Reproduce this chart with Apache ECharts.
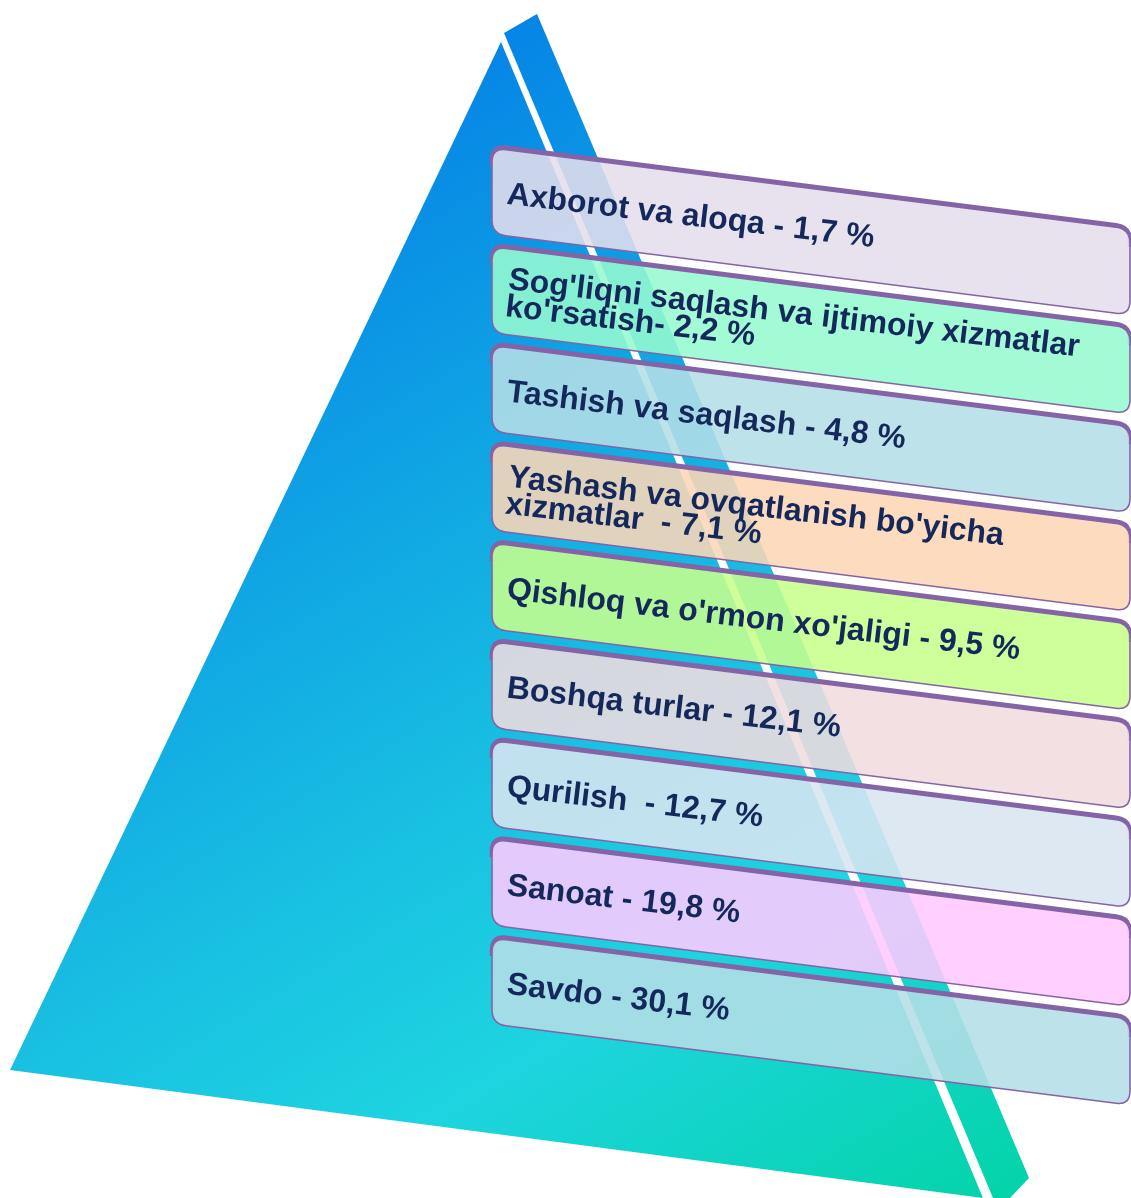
<!DOCTYPE html>
<html>
<head>
<meta charset="utf-8">
<script src="https://cdn.jsdelivr.net/npm/echarts@6/dist/echarts.min.js"></script>
<style>html,body{margin:0;padding:0;background:#fff;}#chart{width:1131px;height:1198px;}</style>
</head>
<body>
<div id="chart"></div>
<script>
// ---- data ----
const categories = [
  "Axborot va aloqa",
  "Sog'liqni saqlash va ijtimoiy xizmatlar\nko'rsatish",
  "Tashish va saqlash",
  "Yashash va ovqatlanish bo'yicha\nxizmatlar ",
  "Qishloq va o'rmon xo'jaligi",
  "Boshqa turlar",
  "Qurilish ",
  "Sanoat",
  "Savdo"
];
const values = [1.7, 2.2, 4.8, 7.1, 9.5, 12.1, 12.7, 19.8, 30.1];
const separators = [" - ", "- ", " - ", " - ", " - ", " - ", " - ", " - ", " - "];

// ---- styles ----
const boxColors = [
  'rgba(229,222,236,0.88)',
  'rgba(150,250,208,0.88)',
  'rgba(181,222,231,0.88)',
  'rgba(253,214,182,0.88)',
  'rgba(199,255,140,0.88)',
  'rgba(240,220,222,0.88)',
  'rgba(217,229,240,0.88)',
  'rgba(255,202,255,0.88)',
  'rgba(181,222,231,0.88)'
];
const purple = '#8464A6';
const textColor = '#15285B';

function fmt(v) { return v.toFixed(1).replace('.', ',') + ' %'; }

function unitTo(p, q, r) {
  const l = Math.hypot(q[0] - p[0], q[1] - p[1]);
  return [p[0] + (q[0] - p[0]) / l * r, p[1] + (q[1] - p[1]) / l * r];
}
function f(p) { return p[0].toFixed(2) + ' ' + p[1].toFixed(2); }

function roundedPath(pts, r) {
  const n = pts.length;
  let d = '';
  for (let i = 0; i < n; i++) {
    const p = pts[i], a = pts[(i - 1 + n) % n], b = pts[(i + 1) % n];
    const s = unitTo(p, a, r), e = unitTo(p, b, r);
    d += (i === 0 ? 'M' : 'L') + f(s) + ' Q' + f(p) + ' ' + f(e) + ' ';
  }
  return d + 'Z';
}
// open path along the top edge, including the two rounded top corners
function topEdgePath(pts, r) {
  const tl = pts[0], tr = pts[1], br = pts[2], bl = pts[3];
  const a = unitTo(tl, bl, r + 6), s1 = unitTo(tl, bl, r), e1 = unitTo(tl, tr, r);
  const s2 = unitTo(tr, tl, r), e2 = unitTo(tr, br, r), b2 = unitTo(tr, br, r + 6);
  return 'M' + f(a) + ' L' + f(s1) + ' Q' + f(tl) + ' ' + f(e1) + ' L' + f(s2) +
         ' Q' + f(tr) + ' ' + f(e2) + ' L' + f(b2);
}

const chart = echarts.init(document.getElementById('chart'), null, {renderer: 'canvas'});

const grad = new echarts.graphic.LinearGradient(350, 100, 1000, 1190, [
  {offset: 0, color: '#0583E6'},
  {offset: 0.5, color: '#18BEE2'},
  {offset: 0.72, color: '#1ED4E0'},
  {offset: 1, color: '#04D4AA'}
], true);

const slope = 0.127;
const boxH = 86;

chart.setOption({
  animation: false,
  backgroundColor: '#ffffff',
  grid: {left: 492, top: 148, width: 638, height: 888.75},
  xAxis: {type: 'value', min: 0, max: 1, show: false},
  yAxis: {type: 'category', data: categories, inverse: true, show: false},
  graphic: [
    {type: 'polygon', z: -10, silent: true,
     shape: {points: [[501, 42], [10, 1070], [983, 1198]]},
     style: {fill: grad}},
    {type: 'polygon', z: -10, silent: true,
     shape: {points: [[504, 33], [537, 14], [1029, 1178], [1010, 1198], [993, 1198]]},
     style: {fill: grad}}
  ],
  series: [{
    type: 'custom',
    silent: true,
    clip: false,
    z: 5,
    encode: {x: 0, y: 1},
    data: values.map((v, i) => [0, i, v]),
    renderItem: function (params, api) {
      const idx = api.value(1);
      const c = api.coord([0, idx]);
      const band = api.size([0, 1])[1];
      const x0 = c[0];
      const x1 = api.coord([1, idx])[0];
      const y0 = c[1] - band / 2;
      const w = x1 - x0;
      const pts = [[x0, y0], [x1, y0 + slope * w], [x1, y0 + slope * w + boxH], [x0, y0 + boxH]];
      const ptsUp = pts.map(p => [p[0], p[1] - 2]);
      const label = categories[idx] + separators[idx] + fmt(values[idx]);
      return {
        type: 'group',
        children: [
          {type: 'path', shape: {pathData: topEdgePath(ptsUp, 14)},
           style: {fill: null, stroke: purple, lineWidth: 4.5}},
          {type: 'path', shape: {pathData: roundedPath(pts, 14)},
           style: {fill: boxColors[idx], stroke: purple, lineWidth: 1.6}},
          {type: 'text', x: x0 + 15, y: y0 + boxH / 2 + 4, rotation: -0.1175,
           style: {text: label, x: 0, y: 0, fill: textColor,
             font: 'bold 32px "Liberation Sans", Arial, sans-serif',
             align: 'left', verticalAlign: 'middle', lineHeight: 27}}
        ]
      };
    }
  }]
});
</script>
</body>
</html>
